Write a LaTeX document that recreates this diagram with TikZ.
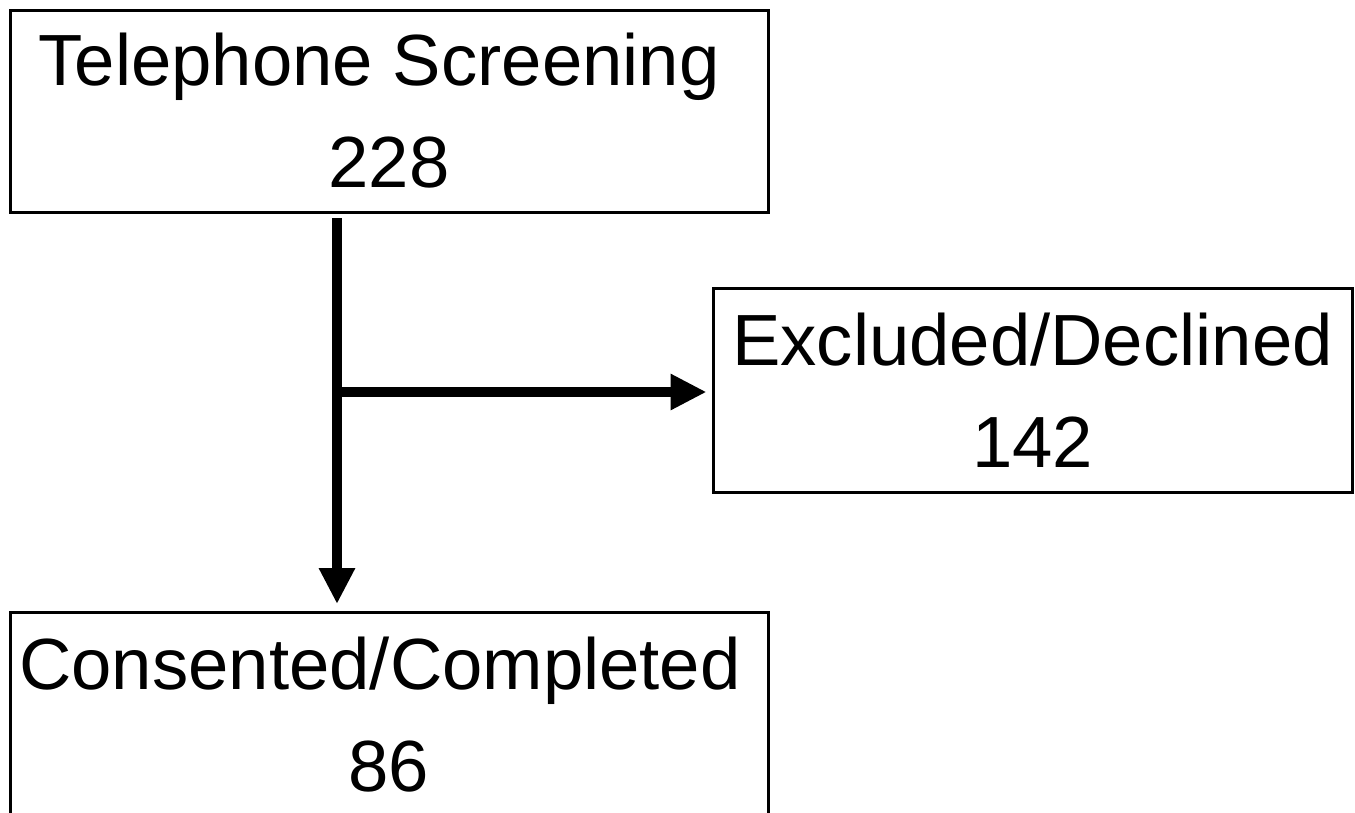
\documentclass[tikz,border=0pt]{standalone}
\usepackage{fontspec}
\setmainfont{Liberation Sans}
\usetikzlibrary{arrows.meta}
\begin{document}
\begin{tikzpicture}[x=1pt,y=-1pt,
  box/.style={draw=black,line width=3pt,rectangle,inner sep=0pt,align=center,
    font=\fontsize{72.5}{102}\selectfont},
  conn/.style={line width=10pt,-{Triangle[width=34pt,length=36pt]}}]
\clip (0,0) rectangle (1355,812);
\fill[white] (0,0) rectangle (1355,812);
\node[box,minimum width=758pt,minimum height=202pt] (b1) at (389,111) {Telephone Screening\hspace*{20pt}\\228};
\node[box,minimum width=639pt,minimum height=204pt] (b2) at (1032.5,390) {Excluded/Declined\\142};
\draw[line width=3pt] (10,612) rectangle (768,840);
\node[box,draw=none,minimum width=758pt,minimum height=202pt] (b3) at (389,715) {Consented/Completed\hspace*{18pt}\\86};
\coordinate (b3top) at (389,612);
\coordinate (top) at (337,218);
\coordinate (j) at (337,392);
\draw[conn,shorten >=8pt] (top) -- (top |- b3top);
\draw[conn,shorten >=5pt,shorten <=-5pt] (j) -- (j -| b2.west);
\end{tikzpicture}
\end{document}
